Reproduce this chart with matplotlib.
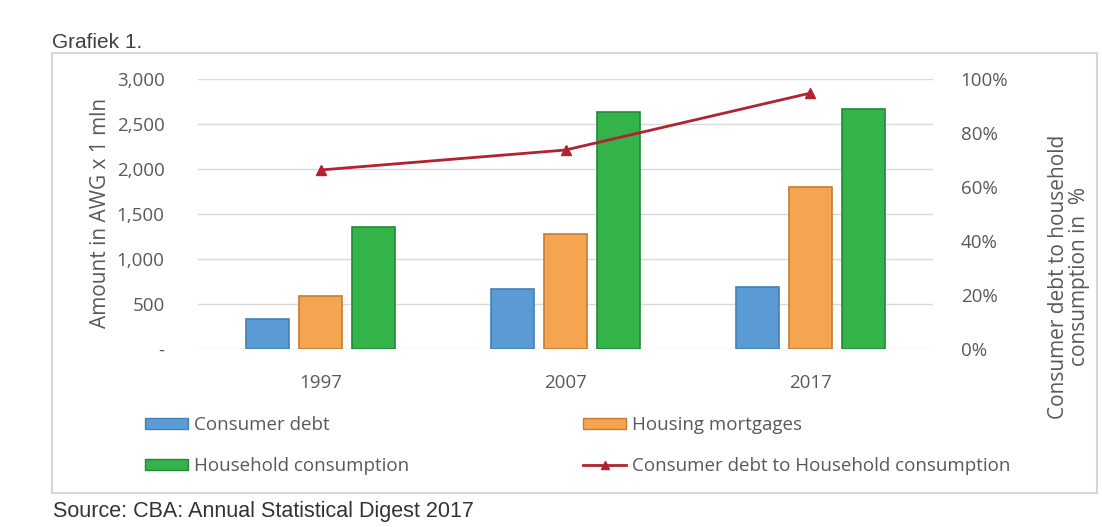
import matplotlib.pyplot as plt
from matplotlib.patches import Rectangle
from matplotlib.lines import Line2D
from matplotlib.ticker import FuncFormatter, PercentFormatter
import numpy as np

plt.rcParams['font.family'] = ['Open Sans', 'DejaVu Sans']

years = ['1997', '2007', '2017']
consumer_debt = [333, 667, 687]
housing_mortgages = [589, 1278, 1800]
household_consumption = [1356, 2633, 2667]
debt_to_consumption = [0.663, 0.737, 0.948]

labels = ['Consumer debt', 'Housing mortgages', 'Household consumption',
          'Consumer debt to Household consumption']
fills = ['#5B9BD5', '#F5A54F', '#34B34A']
edges = ['#467FB3', '#C47C34', '#23893A']
line_color = '#B0232F'
tick_color = '#595959'

fig = plt.figure(figsize=(11.02, 5.27), dpi=100)
ax = fig.add_axes([198 / 1102, 1 - 349 / 527, 735 / 1102, 270 / 527])
ax2 = ax.twinx()

x = np.arange(len(years))
offset = 0.216
width = 0.175
series = [consumer_debt, housing_mortgages, household_consumption]
for i, vals in enumerate(series):
    ax.bar(x + (i - 1) * offset, vals, width, color=fills[i],
           edgecolor=edges[i], linewidth=1.2, zorder=3)

ax2.plot(x, debt_to_consumption, color=line_color, lw=2, marker='^',
         markersize=6.5, zorder=4)

ax.set_xlim(-0.5, 2.5)
ax.set_ylim(0, 3000)
ax.set_yticks(range(0, 3001, 500))
ax.yaxis.set_major_formatter(FuncFormatter(lambda v, p: '-' if v == 0 else f'{v:,.0f}'))
ax.grid(axis='y', color='#D9D9D9', lw=1, zorder=0)
ax.set_axisbelow(True)
ax.set_xticks(x)
ax.set_xticklabels(years)
ax2.set_ylim(0, 1)
ax2.set_yticks(np.linspace(0, 1, 6))
ax2.yaxis.set_major_formatter(PercentFormatter(1.0, decimals=0))

for a in (ax, ax2):
    for s in a.spines.values():
        s.set_visible(False)
    a.tick_params(length=0, labelsize=13.5, colors=tick_color)
ax.tick_params(axis='y', pad=24)
ax.tick_params(axis='x', pad=18)
ax2.tick_params(axis='y', pad=20)

fig.text(100 / 1102, 1 - 213 / 527, 'Amount in AWG x 1 mln', rotation=90,
         ha='center', va='center', fontsize=15, color=tick_color)
fig.text(1069 / 1102, 1 - 277 / 527, 'Consumer debt to household\nconsumption in  %',
         rotation=90, ha='center', va='center', fontsize=15, color=tick_color,
         multialignment='center', linespacing=1.0)

# legends, two columns placed by hand
h_bar = [Rectangle((0, 0), 1, 1, facecolor=fills[i], edgecolor=edges[i]) for i in range(3)]
h_line = Line2D([], [], color=line_color, lw=2, marker='^', markersize=6)
leg_kw = dict(frameon=False, fontsize=13.5, handlelength=2.3, handleheight=0.5,
              handletextpad=0.3, labelspacing=1.25, labelcolor=tick_color,
              loc='upper left', borderaxespad=0, borderpad=0)
fig.legend([h_bar[0], h_bar[2]], [labels[0], labels[2]],
           bbox_to_anchor=(145 / 1102, 1 - 416 / 527), **leg_kw)
fig.legend([h_bar[1], h_line], [labels[1], labels[3]],
           bbox_to_anchor=(583 / 1102, 1 - 416 / 527), **leg_kw)

# outer frame, title and source
fig.patches.append(Rectangle((52 / 1102, 1 - 493 / 527), 1045 / 1102, 440 / 527,
                             transform=fig.transFigure, fill=False,
                             edgecolor='#D6D6D6', lw=1.5))
fig.text(52 / 1102, 1 - 42 / 527, 'Grafiek 1.', fontsize=15, color='#404040',
         family='Liberation Sans', va='center')
fig.text(53 / 1102, 1 - 512 / 527, 'Source: CBA: Annual Statistical Digest 2017',
         fontsize=15.5, color='#333333', family='Liberation Sans', va='center')

fig.savefig('out.png', dpi=100)
